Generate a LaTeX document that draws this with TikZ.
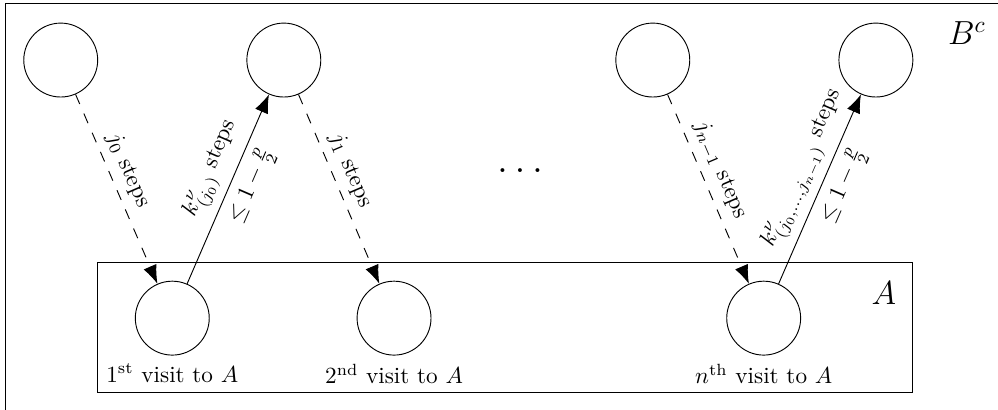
\documentclass[tikz,border=0pt]{standalone}
\usepackage{amsmath}
\usetikzlibrary{arrows.meta,positioning}
\tikzset{
  state/.style={circle, draw=black, minimum size=1.12cm, inner sep=0pt},
  jump/.style={dash pattern=on 4.5pt off 4.5pt, -{Latex[length=8pt,width=6pt]}},
  back/.style={-{Latex[length=8pt,width=6pt]}},
  setname/.style={font=\Large},
}

\begin{document}
\begin{tikzpicture}
  \clip (0,0) rectangle (15.12,6.21);
  % the sets
  \draw (0.09,6.15) rectangle (15.6,-0.5);
  \draw (1.48,0.27) rectangle (13.82,2.23);
  \node[setname] (bc) at (14.65,5.71) {$B^c$};
  \node[setname] (a) at (13.39,1.77) {$A$};
  % states outside A
  \node[state] (t1) at (0.92,5.30) {};
  \node[state] (t2) at (4.30,5.30) {};
  \node[state] (t3) at (9.89,5.30) {};
  \node[state] (t4) at (13.27,5.30) {};
  % visits to A
  \node[state,label=below:{1\textsuperscript{st} visit to $A$}] (b1) at (2.61,1.39) {};
  \node[state,label=below:{2\textsuperscript{nd} visit to $A$}] (b2) at (5.97,1.39) {};
  \node[state,label=below:{$n^{\text{th}}$ visit to $A$}] (b3) at (11.57,1.39) {};
  \node[font=\LARGE] (dots) at (7.93,3.62) {$\dots$};
  % excursions
  \draw[jump] (t1) -- node[pos=0.44,sloped,above]{$j_0$ steps} (b1);
  \draw[back] (b1) -- node[pos=0.56,sloped,above]{$k^{\nu}_{(j_0)}$ steps} node[pos=0.56,sloped,below]{$\leq 1-\frac{p}{2}$} (t2);
  \draw[jump] (t2) -- node[pos=0.44,sloped,above]{$j_1$ steps} (b2);
  \draw[jump] (t3) -- node[pos=0.44,sloped,above]{$j_{n-1}$ steps} (b3);
  \draw[back] (b3) -- node[pos=0.56,sloped,above]{$k^{\nu}_{(j_0,\dots,j_{n-1})}$ steps} node[pos=0.56,sloped,below]{$\leq 1-\frac{p}{2}$} (t4);
\end{tikzpicture}
\end{document}
